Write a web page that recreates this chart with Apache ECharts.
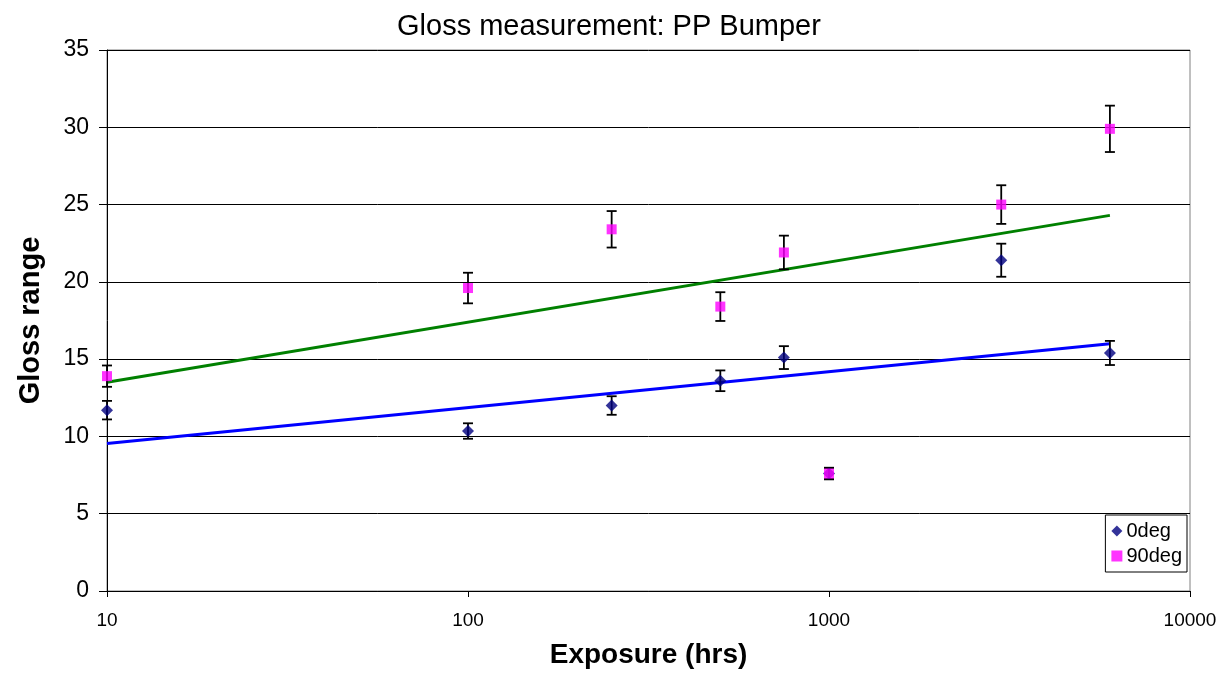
<!DOCTYPE html>
<html><head><meta charset="utf-8">
<script src="https://cdn.jsdelivr.net/npm/echarts@6/dist/echarts.min.js"></script>
<style>html,body{margin:0;padding:0;background:#fff}#c{width:1230px;height:675px}</style>
</head><body><div id="c"></div>
<script>
const exposure = [10, 100, 250, 500, 750, 1000, 3000, 6000];
const deg0 = [11.7, 10.35, 12.0, 13.6, 15.1, 7.6, 21.4, 15.4];
const deg0Err = [0.6, 0.5, 0.6, 0.67, 0.74, 0.37, 1.07, 0.78];
const deg90 = [13.9, 19.6, 23.4, 18.4, 21.9, 7.6, 25.0, 29.9];
const deg90Err = [0.69, 0.99, 1.18, 0.93, 1.09, 0.37, 1.25, 1.5];
const trendX = [10, 6000];
const trend0 = [9.55, 16.0];
const trend90 = [13.5, 24.3];
const yTicks = [0, 5, 10, 15, 20, 25, 30, 35];

const font = 'Liberation Sans, Arial, sans-serif';
function pts(xs, ys) { return xs.map((x, i) => [x, ys[i]]); }
function errData(xs, ys, es) { return xs.map((x, i) => [x, ys[i] - es[i], ys[i] + es[i]]); }
function errRender(params, api) {
  const lo = api.coord([api.value(0), api.value(1)]);
  const hi = api.coord([api.value(0), api.value(2)]);
  const w = 5;
  const st = { stroke: '#000', lineWidth: 1.8 };
  return { type: 'group', children: [
    { type: 'line', shape: { x1: lo[0], y1: lo[1], x2: hi[0], y2: hi[1] }, style: st },
    { type: 'line', shape: { x1: lo[0] - w, y1: lo[1], x2: lo[0] + w, y2: lo[1] }, style: st },
    { type: 'line', shape: { x1: hi[0] - w, y1: hi[1], x2: hi[0] + w, y2: hi[1] }, style: st }
  ]};
}
const chart = echarts.init(document.getElementById('c'), null, { renderer: 'canvas' });
chart.setOption({
  animation: false,
  backgroundColor: '#fff',
  title: { text: 'Gloss measurement: PP Bumper', left: 392, top: 7,
    textStyle: { fontFamily: font, fontSize: 29, fontWeight: 'normal', color: '#000' } },
  grid: { left: 107, right: 40, top: 50, bottom: 84, show: true, borderColor: '#808080', borderWidth: 1 },
  legend: {
    data: ['0deg', '90deg'], orient: 'vertical', right: 43, top: 515,
    borderColor: '#000', borderWidth: 1, padding: [6, 5, 6, 6], itemGap: 5,
    itemWidth: 11, itemHeight: 11,
    textStyle: { fontFamily: font, fontSize: 20, color: '#000', padding: [0, 0, 0, -1] }
  },
  xAxis: {
    type: 'log', logBase: 10, min: 10, max: 10000,
    name: 'Exposure (hrs)', nameLocation: 'middle', nameGap: 50,
    nameTextStyle: { fontFamily: font, fontSize: 28, fontWeight: 'bold', color: '#000' },
    axisLine: { lineStyle: { color: '#000', width: 1 } },
    axisTick: { show: true, length: 6, lineStyle: { color: '#000' } },
    minorTick: { show: false },
    splitLine: { show: false },
    axisLabel: { fontFamily: font, fontSize: 19, color: '#000', margin: 20,
      formatter: v => String(Math.round(v)) }
  },
  yAxis: {
    type: 'value', min: 0, max: 35, interval: 5,
    name: 'Gloss range', nameLocation: 'middle', nameGap: 62,
    nameTextStyle: { fontFamily: font, fontSize: 29, fontWeight: 'bold', color: '#000' },
    axisLine: { show: true, lineStyle: { color: '#000', width: 1 } },
    axisTick: { show: true, length: 8, lineStyle: { color: '#000' } },
    splitLine: { show: true, lineStyle: { color: '#000', width: 1 } },
    axisLabel: { fontFamily: font, fontSize: 23, color: '#000', margin: 18,
      formatter: v => yTicks.includes(v) ? String(v) : '' }
  },
  series: [
    { name: 'trend90', type: 'line', data: pts(trendX, trend90), showSymbol: false, symbol: 'none',
      lineStyle: { color: '#008000', width: 3 }, silent: true, z: 2 },
    { name: 'trend0', type: 'line', data: pts(trendX, trend0), showSymbol: false, symbol: 'none',
      lineStyle: { color: '#0000FF', width: 3 }, silent: true, z: 2 },
    { name: 'err0', type: 'custom', data: errData(exposure, deg0, deg0Err), renderItem: errRender, z: 3 },
    { name: 'err90', type: 'custom', data: errData(exposure, deg90, deg90Err), renderItem: errRender, z: 3 },
    { name: '0deg', type: 'scatter', data: pts(exposure, deg0), symbol: 'diamond', symbolSize: 12,
      itemStyle: { color: '#000080' }, z: 4 },
    { name: '90deg', type: 'scatter', data: pts(exposure, deg90), symbol: 'rect', symbolSize: 10,
      itemStyle: { color: '#FF00FF' }, z: 5 }
  ]
});
</script></body></html>
